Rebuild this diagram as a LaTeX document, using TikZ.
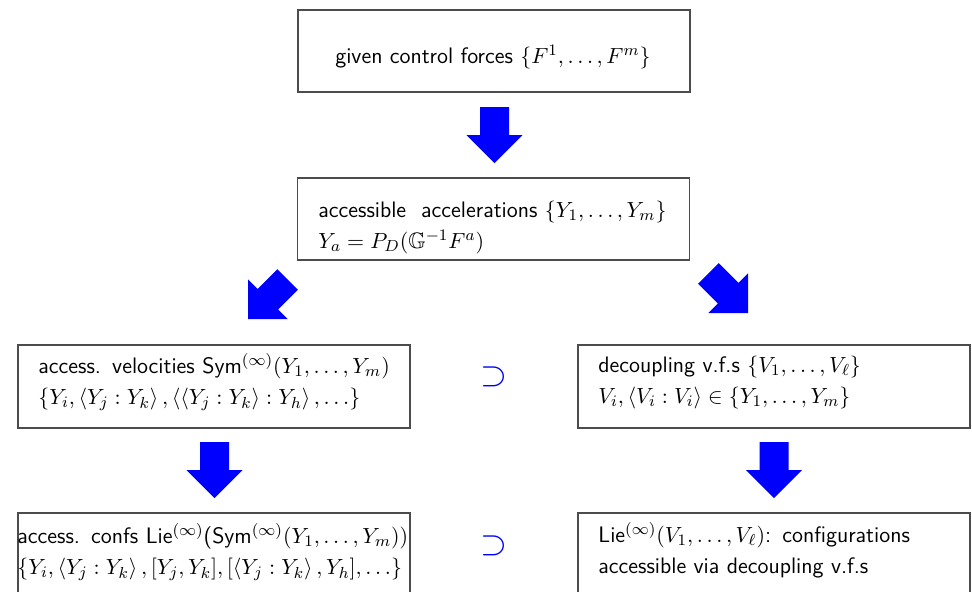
\documentclass[tikz,border=0pt]{standalone}
\usepackage{amssymb}
\usepackage{fontspec}
\begin{document}
\begin{tikzpicture}[x=0.5pt,y=-0.5pt,
  box/.style={draw=black!70,line width=0.6pt,minimum width=196pt,inner sep=0pt,outer sep=0pt},
  txtfont/.style={font=\sffamily\fontsize{11.2pt}{15.75pt}\selectfont},
  txt/.style={txtfont,inner sep=0pt,text width=260pt,align=left,anchor=base west},
  sup/.style={text=blue,font=\fontsize{18pt}{20pt}\selectfont,inner sep=0pt},
  barrow/.pic={\fill[blue] (0,-14.5) -- (28,-14.5) -- (28,-28) -- (56,0) -- (28,28) -- (28,14.5) -- (0,14.5) -- cycle;}]
\useasboundingbox (0,0) rectangle (972,591);
% boxes
\node[box,minimum height=41pt] (top) at (494,51) {};
\node[box,minimum height=41pt] (acc) at (493.5,219) {};
\node[box,minimum height=41.5pt] (vel) at (214,386.5) {};
\node[box,minimum height=41.5pt] (dec) at (774,386.5) {};
\node[box,minimum height=41pt] (conf) at (214,554) {};
\node[box,minimum height=41pt] (lie) at (774,554) {};
% texts
\node[txtfont,inner sep=0pt,anchor=base] (ttop) at (493,63) {given control forces $\{F^1,\ldots,F^m\}$};
\node[txt] (tacc) at (318,217) {accessible\ \ accelerations $\{Y_1,\ldots,Y_m\}$\\$Y_a=P_D(\mathbb{G}^{-1}F^a)$};
\node[txt] (tvel) at (38,373) {access. velocities Sym$^{(\infty)}(Y_1,\ldots,Y_m)$\\$\{Y_i,\left\langle Y_j:Y_k\right\rangle,\left\langle\left\langle Y_j:Y_k\right\rangle:Y_h\right\rangle,\ldots\}$};
\node[txt] (tdec) at (598,372) {decoupling v.f.s $\{V_1,\ldots,V_\ell\}$\\$V_i,\langle V_i:V_i\rangle\in\{Y_1,\ldots,Y_m\}$};
\node[txt] (tconf) at (17,543) {access. confs Lie$^{(\infty)}$(Sym$^{(\infty)}(Y_1,\ldots,Y_m))$\\$\{Y_i,\left\langle Y_j:Y_k\right\rangle,[Y_j,Y_k],[\left\langle Y_j:Y_k\right\rangle,Y_h],\ldots\}$};
\node[txt] (tlie) at (598,542) {Lie$^{(\infty)}(V_1,\ldots,V_\ell)$: configurations\\accessible via decoupling v.f.s};
% supset symbols
\node[sup] (s1) at (494,377) {$\supset$};
\node[sup] (s2) at (494,546) {$\supset$};
% block arrows
\pic[rotate=-90] at (494.5,107) {barrow};
\pic[rotate=-135] at (287.6,279.4) {barrow};
\pic[rotate=-45] at (708.4,273.4) {barrow};
\pic[rotate=-90] at (214.5,442) {barrow};
\pic[rotate=-90] at (774,442) {barrow};
\end{tikzpicture}
\end{document}
